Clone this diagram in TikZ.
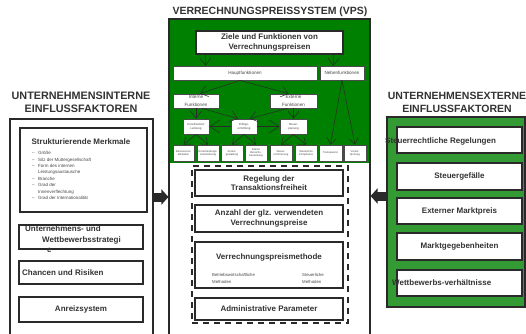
\documentclass[tikz,border=0pt]{standalone}
\usepackage{fontspec}
\setmainfont{Liberation Sans}
\usetikzlibrary{arrows.meta,calc}
\definecolor{vpsgreen}{HTML}{008000}
\definecolor{extgreen}{HTML}{349A34}
\definecolor{ink}{HTML}{333333}
\definecolor{framec}{HTML}{2A2A2A}
\tikzset{
  heading/.style={font=\bfseries\fontsize{10.5}{13}\selectfont, text=ink, align=center, inner sep=0pt},
  bigbox/.style={draw=framec, line width=1.4pt, fill=white, inner sep=0pt, font=\bfseries\fontsize{8}{9.5}\selectfont, text=ink, align=center},
  boxtext/.style={inner sep=0pt, font=\bfseries\fontsize{8}{9.5}\selectfont, text=ink, align=center},
  fnbox/.style={draw=framec!85, line width=0.7pt, fill=white, inner sep=0pt, font=\fontsize{4.6}{7.5}\selectfont, text=ink!90, align=center},
  midbox/.style={draw=framec!85, line width=0.8pt, fill=white, inner sep=0pt, font=\fontsize{2.9}{3.6}\selectfont, text=ink!90, align=center},
  subbox/.style={draw=framec!85, line width=0.8pt, fill=white, inner sep=0pt, font=\fontsize{2.7}{3.3}\selectfont, text=ink!90, align=center},
  smalltext/.style={inner sep=0pt, font=\fontsize{4.5}{6.4}\selectfont, text=ink!90, align=left},
  frameline/.style={draw=framec, line width=1.1pt},
  fnarrow/.style={draw=framec, line width=0.5pt, -{Straight Barb[length=7pt,width=11pt]}},
  subarrow/.style={draw=framec, line width=0.5pt, -{Straight Barb[length=6pt,width=9pt]}},
  sidearrow/.style={draw=framec, line width=0.5pt, -{Straight Barb[length=10pt,width=13pt]}},
  fatarrow/.style={draw=framec, line width=9pt, -{Triangle[length=7pt,width=15pt]}},
}
\begin{document}
\begin{tikzpicture}[x=1pt,y=-1pt]
\useasboundingbox[fill=white] (0,0) rectangle (526,333);

% ---------------- VPS ----------------
\node[heading] (vpstitle) at (270,12) {VERRECHNUNGSPREISSYSTEM (VPS)};
\node[fill=vpsgreen, inner sep=0pt, minimum width=201pt, minimum height=144pt] (vpsgreen) at (269.5,91) {};
\node[frameline, inner sep=0pt, minimum width=201pt, minimum height=317pt] (vps) at (269.5,177.5) {};

\node[bigbox, font=\bfseries\fontsize{8}{10.5}\selectfont, minimum width=147pt, minimum height=23pt] (ziele) at (269.5,42.5) {Ziele und Funktionen von\\Verrechnungspreisen};
\node[fnbox, minimum width=144pt, minimum height=14pt] (haupt) at (245,73) {Hauptfunktionen};
\node[fnbox, minimum width=44pt, minimum height=14pt] (neben) at (342,73) {Nebenfunktionen};
\node[fnbox, minimum width=46pt, minimum height=14pt] (intern) at (196,101) {Interne\\Funktionen};
\node[fnbox, minimum width=47pt, minimum height=14pt] (extern) at (293.5,101) {Externe\\Funktionen};

\node[midbox, minimum width=26pt, minimum height=15pt] (koord) at (196,126.5) {Koordination/\\Lenkung};
\node[midbox, minimum width=26pt, minimum height=15pt] (erfolg) at (244,126.5) {Erfolgs-\\ermittlung};
\node[midbox, minimum width=27pt, minimum height=15pt] (steuerpl) at (293.5,126.5) {Steuer-\\planung};

\node[subbox, minimum width=21pt, minimum height=16pt] (r1) at (183.5,153) {Ressourcen-\\allokation};
\node[subbox, minimum width=22pt, minimum height=16pt] (r2) at (208,153) {Entscheidungs-\\unterstützung};
\node[subbox, minimum width=22pt, minimum height=16pt] (r3) at (232,153) {Anreiz-\\gestaltung};
\node[subbox, minimum width=22pt, minimum height=16pt] (r4) at (256,153) {Interne\\Bereichs-\\beurteilung};
\node[subbox, minimum width=22pt, minimum height=16pt] (r5) at (281,153) {Steuer-\\minimierung};
\node[subbox, minimum width=22pt, minimum height=16pt] (r6) at (306,153) {Steuerliche\\Compliance};
\node[subbox, minimum width=23pt, minimum height=16pt] (r7) at (330.5,153) {Transparenz};
\node[subbox, minimum width=22pt, minimum height=16pt] (r8) at (355,153) {Verein-\\fachung};

\draw[fnarrow] ($(ziele.south west)+(10,0)$) -- ($(haupt.north west)+(33,0)$);
\draw[fnarrow] ($(ziele.south east)+(-10,0)$) -- ($(neben.north)+(-9,0)$);
\draw[fnarrow] ($(haupt.south)+(-5,0)$) -- ($(intern.north)+(4,0)$);
\draw[fnarrow] ($(haupt.south)+(-5,0)$) -- ($(extern.north)+(-5,0)$);
\draw[fnarrow] (intern.south) -- (koord.north);
\draw[fnarrow] ($(intern.south)+(6,0)$) -- ($(erfolg.north)+(-6,0)$);
\draw[fnarrow] ($(extern.south)+(-6,0)$) -- ($(erfolg.north)+(6,0)$);
\draw[fnarrow] (extern.south) -- (steuerpl.north);
\draw[sidearrow] (erfolg.west) -- (koord.east);
\draw[sidearrow] (erfolg.east) -- (steuerpl.west);
\draw[subarrow] (koord.south) -- (r1.north);
\draw[subarrow] (koord.south) -- (r2.north);
\draw[subarrow] (erfolg.south) -- (r3.north);
\draw[subarrow] (erfolg.south) -- (r4.north);
\draw[subarrow] (steuerpl.south) -- (r5.north);
\draw[subarrow] (steuerpl.south) -- (r6.north);
\draw[subarrow] (neben.south) -- (r7.north);
\draw[subarrow] (neben.south) -- (r8.north);

% lower part of VPS
\node[draw=framec, line width=1.4pt, dash pattern=on 6pt off 5pt, inner sep=0pt, minimum width=156pt, minimum height=157pt] (dashbox) at (270,244.5) {};
\node[bigbox, minimum width=148pt, minimum height=26pt] (regel) at (269,183) {Regelung der\\Transaktionsfreiheit};
\node[bigbox, font=\bfseries\fontsize{8}{10}\selectfont, minimum width=148pt, minimum height=27pt] (anzahl) at (269,218.5) {Anzahl der glz. verwendeten\\Verrechnungspreise};
\node[bigbox, minimum width=148pt, minimum height=46pt] (methode) at (269,265) {};
\node[boxtext] (methodetitle) at (269,257) {Verrechnungspreismethode};
\node[smalltext, font=\fontsize{4.3}{7}\selectfont, anchor=north west] (bwm) at (212,273) {Betriebswirtschaftliche\\Methoden};
\node[smalltext, font=\fontsize{4.3}{7}\selectfont, anchor=north west] (stm) at (302,273) {Steuerliche\\Methoden};
\node[bigbox, minimum width=148pt, minimum height=22pt] (admin) at (269,309) {Administrative Parameter};

% ---------------- left panel ----------------
\node[heading, font=\bfseries\fontsize{10.8}{13}\selectfont] (lefttitle) at (81,102) {UNTERNEHMENSINTERNE\\EINFLUSSFAKTOREN};
\node[frameline, inner sep=0pt, minimum width=143pt, minimum height=217pt] (leftpanel) at (81.5,227.5) {};
\node[bigbox, minimum width=127pt, minimum height=84pt] (struct) at (83.5,170) {};
\node[boxtext] (structtitle) at (81,142) {Strukturierende Merkmale};
\node[smalltext, anchor=north west] (structlist) at (32,150) {%
  \begin{tabular}{@{}l@{\hspace{3.5pt}}l@{}}
  – & Größe\\
  – & Sitz der Muttergesellschaft\\
  – & Form des internen\\
    & Leistungsaustausche\\
  – & Branche\\
  – & Grad der\\
    & Innenverflechtung\\
  – & Grad der Internationalität
  \end{tabular}};
\node[bigbox, minimum width=124pt, minimum height=24pt] (strat) at (81,237) {};
\node[boxtext, font=\bfseries\fontsize{8}{10.5}\selectfont, align=left, anchor=north west] (strattext) at (25,225.5) {Unternehmens- und\\\hspace*{17pt}Wettbewerbsstrategi\\\hspace*{22pt}e};
\node[bigbox, minimum width=124pt, minimum height=23pt] (chancen) at (81,272.5) {};
\node[boxtext, anchor=west] (chancentext) at (22,273) {Chancen und Risiken};
\node[bigbox, minimum width=124pt, minimum height=25pt] (anreiz) at (81,309.5) {Anreizsystem};

% ---------------- right panel ----------------
\node[heading] (righttitle) at (457,102) {UNTERNEHMENSEXTERNE\\EINFLUSSFAKTOREN};
\node[draw=framec, line width=1.3pt, fill=extgreen, inner sep=0pt, minimum width=138pt, minimum height=190pt] (extpanel) at (456,212) {};
\node[bigbox, minimum width=125pt, minimum height=26pt] (steuerr) at (459.5,140) {};
\node[boxtext, anchor=west] (steuerrtext) at (385,141) {Steuerrechtliche Regelungen};
\node[bigbox, minimum width=125pt, minimum height=27pt] (steuerg) at (459.5,176.5) {Steuergefälle};
\node[bigbox, minimum width=125pt, minimum height=26pt] (marktpreis) at (459.5,211) {Externer Marktpreis};
\node[bigbox, minimum width=125pt, minimum height=27pt] (markt) at (459.5,246.5) {Marktgegebenheiten};
\node[bigbox, minimum width=125pt, minimum height=26pt] (wettb) at (459.5,283) {};
\node[boxtext, anchor=west] (wettbtext) at (392,283) {Wettbewerbs-verhältnisse};

% ---------------- fat arrows ----------------
\coordinate (lvl) at (0,197);
\coordinate (rvl) at (0,196);
\draw[fatarrow] (leftpanel.east |- lvl) -- (vps.west |- lvl);
\draw[fatarrow] (extpanel.west |- rvl) -- (vps.east |- rvl);
\end{tikzpicture}
\end{document}
